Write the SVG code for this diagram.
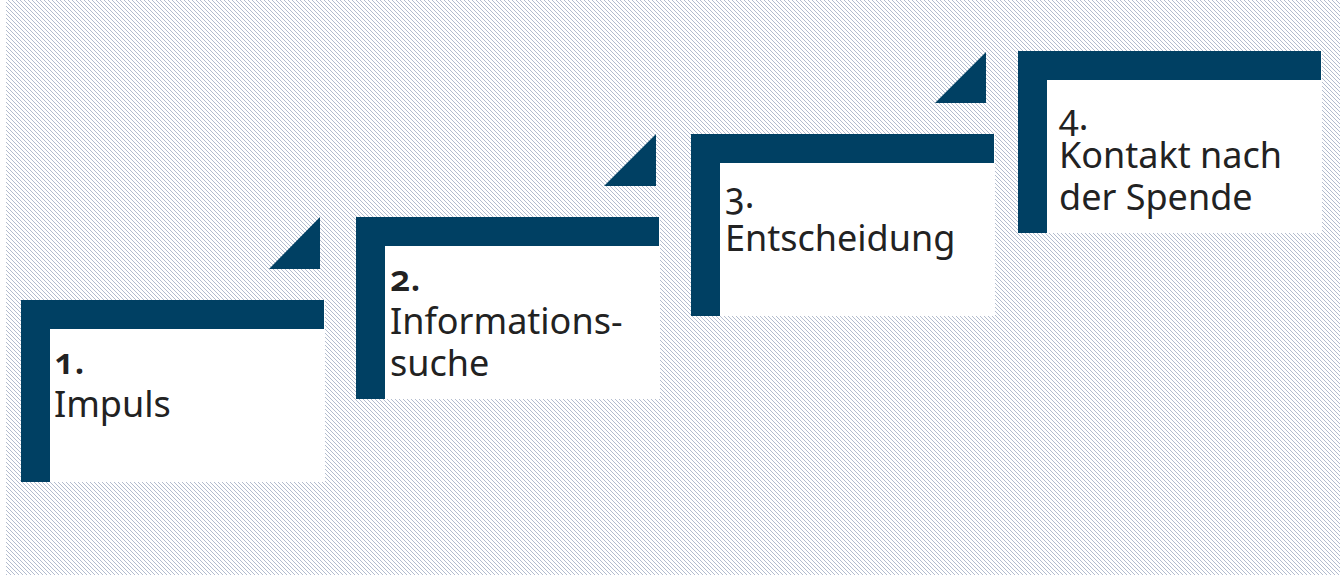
<svg xmlns="http://www.w3.org/2000/svg" width="1340" height="575" viewBox="0 0 1340 575">
  <defs>
    <pattern id="hatch" patternUnits="userSpaceOnUse" width="4" height="4">
      <rect width="4" height="4" fill="#ffffff"/>
      <path d="M-1,-1 L5,5 M-1,3 L1,5 M3,-1 L5,1" stroke="#aab4c8" stroke-width="0.9"/>
    </pattern>
  </defs>
  <style>
    .bar { fill: #004063; }
    .card { fill: #ffffff; }
    .num { font-family: "Noto Sans", "Open Sans", sans-serif; font-size: 36px; fill: #222222; font-variant-numeric: oldstyle-nums; font-feature-settings: "onum"; }
    .lbl { font-family: "Noto Sans", "Open Sans", sans-serif; font-size: 36px; fill: #222222; }
    .b { font-weight: 600; }
  </style>
  <rect x="0" y="0" width="1340" height="575" fill="#ffffff"/>
  <rect x="6" y="0" width="1334" height="575" fill="url(#hatch)"/>

  <g id="connectors">
    <polygon class="bar" points="320,217 320,269 269,269"/>
    <polygon class="bar" points="656,134 656,186 604,186"/>
    <polygon class="bar" points="986,52 986,103 935,103"/>
  </g>

  <g id="step1">
    <rect class="card" x="21" y="300" width="304" height="182"/>
    <path class="bar" d="M21,300 H324 V329 H50 V482 H21 Z"/>
    <text class="num b" x="54" y="374">1.</text>
    <text class="lbl" x="54" y="417">Impuls</text>
  </g>

  <g id="step2">
    <rect class="card" x="356" y="217" width="304" height="182"/>
    <path class="bar" d="M356,217 H659 V246 H385 V399 H356 Z"/>
    <text class="num b" x="390" y="291">2.</text>
    <text class="lbl" x="390" y="334">Informations-</text>
    <text class="lbl" x="390" y="376">suche</text>
  </g>

  <g id="step3">
    <rect class="card" x="691" y="134" width="304" height="182"/>
    <path class="bar" d="M691,134 H994 V163 H720 V316 H691 Z"/>
    <text class="num" x="725" y="208">3.</text>
    <text class="lbl" x="725" y="251">Entscheidung</text>
  </g>

  <g id="step4">
    <rect class="card" x="1018" y="51" width="304" height="182"/>
    <path class="bar" d="M1018,51 H1321 V80 H1047 V233 H1018 Z"/>
    <text class="num" x="1059" y="130">4.</text>
    <text class="lbl" x="1059" y="168">Kontakt nach</text>
    <text class="lbl" x="1059" y="210">der Spende</text>
  </g>
</svg>
